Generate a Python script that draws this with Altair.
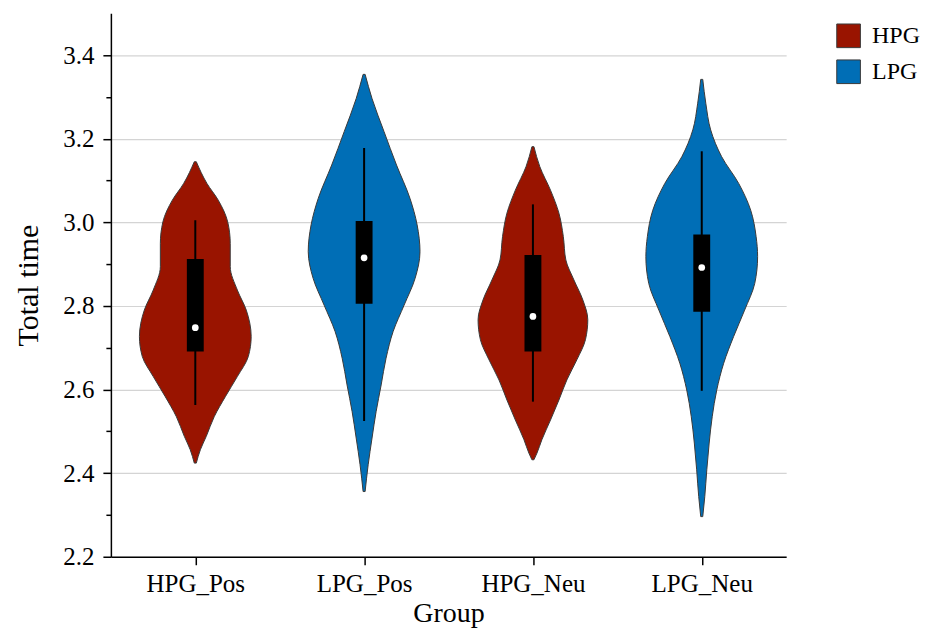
import altair as alt
import pandas as pd

# ---- data ----
groups = ["HPG_Pos", "LPG_Pos", "HPG_Neu", "LPG_Neu"]
classes = ["HPG", "LPG", "HPG", "LPG"]

# violin outlines: y levels and half-widths (in category units)
v1_y = [3.145, 3.093, 3.053, 3.001, 2.949, 2.894, 2.838, 2.790, 2.727, 2.679, 2.631, 2.583, 2.535, 2.488, 2.456, 2.424]
v1_w = [0.006, 0.069, 0.136, 0.192, 0.207, 0.207, 0.249, 0.302, 0.331, 0.314, 0.249, 0.178, 0.112, 0.065, 0.030, 0.006]

v2_y = [3.354, 3.296, 3.217, 3.137, 3.057, 2.994, 2.930, 2.866, 2.802, 2.739, 2.675, 2.611, 2.547, 2.484, 2.420, 2.356]
v2_w = [0.006, 0.047, 0.118, 0.192, 0.272, 0.314, 0.331, 0.302, 0.237, 0.172, 0.130, 0.101, 0.071, 0.047, 0.024, 0.006]

v3_y = [3.181, 3.133, 3.077, 3.022, 2.966, 2.910, 2.862, 2.814, 2.767, 2.719, 2.671, 2.623, 2.575, 2.527, 2.480, 2.448, 2.432]
v3_w = [0.006, 0.041, 0.104, 0.154, 0.180, 0.195, 0.243, 0.296, 0.325, 0.311, 0.260, 0.201, 0.154, 0.104, 0.053, 0.024, 0.006]

v4_y = [3.342, 3.285, 3.221, 3.157, 3.093, 3.029, 2.966, 2.918, 2.854, 2.790, 2.727, 2.663, 2.599, 2.535, 2.472, 2.408, 2.344, 2.296]
v4_w = [0.006, 0.024, 0.053, 0.118, 0.219, 0.290, 0.322, 0.331, 0.314, 0.254, 0.189, 0.130, 0.089, 0.062, 0.044, 0.030, 0.018, 0.006]

# box statistics
whisker_low = [2.563, 2.525, 2.571, 2.597]
q1 = [2.691, 2.805, 2.691, 2.786]
median = [2.748, 2.915, 2.775, 2.892]
q3 = [2.912, 3.003, 2.922, 2.971]
whisker_high = [3.005, 3.178, 3.043, 3.170]

colors = ["#991400", "#006EB6"]

# ---- build tables ----
rows = []
for i, (ys, ws) in enumerate([(v1_y, v1_w), (v2_y, v2_w), (v3_y, v3_w), (v4_y, v4_w)]):
    for y, w in zip(ys, ws):
        rows.append({"group": groups[i], "cls": classes[i], "idx": i, "value": y, "hw": w})
vdf = pd.DataFrame(rows).sort_values(["idx", "value"])

bdf = pd.DataFrame({
    "group": groups, "cls": classes, "idx": list(range(len(groups))),
    "wlo": whisker_low, "q1": q1, "med": median, "q3": q3, "whi": whisker_high,
})

FONT = "Liberation Serif"
major = "round(datum.value*10) % 2 == 0"

xscale = alt.Scale(domain=[-0.5, len(groups) - 0.5], nice=False, zero=False)
yscale = alt.Scale(domain=[2.2, 3.5], nice=False, zero=False)

label_js = "[" + ",".join("'" + g + "'" for g in groups) + "][datum.value]"
xaxis = alt.Axis(
    title="Group", values=list(range(len(groups))), labelExpr=label_js,
    grid=False, tickSize=8, labelPadding=7, titlePadding=3,
    titleFontSize=28,
)
yticks = [round(2.2 + 0.1 * k, 1) for k in range(13)]
yaxis = alt.Axis(
    title="Total time", values=yticks,
    labelExpr="round(datum.value*10) % 2 == 0 ? format(datum.value, '.1f') : ''",
    tickSize={"condition": {"test": major, "value": 8}, "value": 5},
    grid=True,
    gridOpacity={"condition": {"test": major, "value": 1}, "value": 0},
    gridColor="#d4d4d4", gridWidth=1.2, labelPadding=9, titlePadding=19,
    titleFontSize=30,
)

violin = alt.Chart(vdf).transform_calculate(
    left="datum.idx - datum.hw", right="datum.idx + datum.hw"
).mark_area(
    orient="horizontal", interpolate="monotone", stroke="#3a3a3a", strokeWidth=1, opacity=1
).encode(
    y=alt.Y("value:Q", scale=yscale, axis=yaxis),
    x=alt.X("left:Q", scale=xscale, axis=xaxis, stack=None),
    x2="right:Q",
    color=alt.Color(
        "cls:N",
        scale=alt.Scale(domain=["HPG", "LPG"], range=colors),
        legend=alt.Legend(
            title=None, orient="none", legendX=726, legendY=10,
            symbolType="square", symbolSize=560, symbolStrokeColor="#3a3a3a",
            symbolStrokeWidth=1, symbolOpacity=1, labelFont=FONT, labelFontSize=24,
            labelColor="black", labelOffset=11, rowPadding=7,
        ),
    ),
    detail="group:N",
)

whisk = alt.Chart(bdf).mark_rule(color="black", strokeWidth=2).encode(
    x=alt.X("idx:Q", scale=xscale, axis=xaxis),
    y=alt.Y("wlo:Q", scale=yscale, axis=yaxis),
    y2="whi:Q",
)

box = alt.Chart(bdf).transform_calculate(
    bl="datum.idx - 0.05", br="datum.idx + 0.05"
).mark_rect(color="black").encode(
    x=alt.X("bl:Q", scale=xscale, axis=xaxis),
    x2="br:Q",
    y=alt.Y("q1:Q", scale=yscale, axis=yaxis),
    y2="q3:Q",
)

med = alt.Chart(bdf).mark_point(filled=True, color="white", size=45, opacity=1, shape="circle").encode(
    x=alt.X("idx:Q", scale=xscale, axis=xaxis),
    y=alt.Y("med:Q", scale=yscale, axis=yaxis),
)

chart = alt.layer(violin, whisk, box, med).properties(
    width=676, height=544,
    autosize=alt.AutoSizeParams(type="none"),
    padding={"left": 103, "top": 5, "right": 140, "bottom": 74},
).configure_view(stroke=None).configure_axis(
    domainColor="black", domainWidth=1.5, tickColor="black", tickWidth=1.5,
    labelFont=FONT, labelFontSize=25, labelColor="black",
    titleFont=FONT, titleFontWeight="normal", titleColor="black",
)

chart.save("out.html", embed_options={"renderer": "svg", "actions": False})
